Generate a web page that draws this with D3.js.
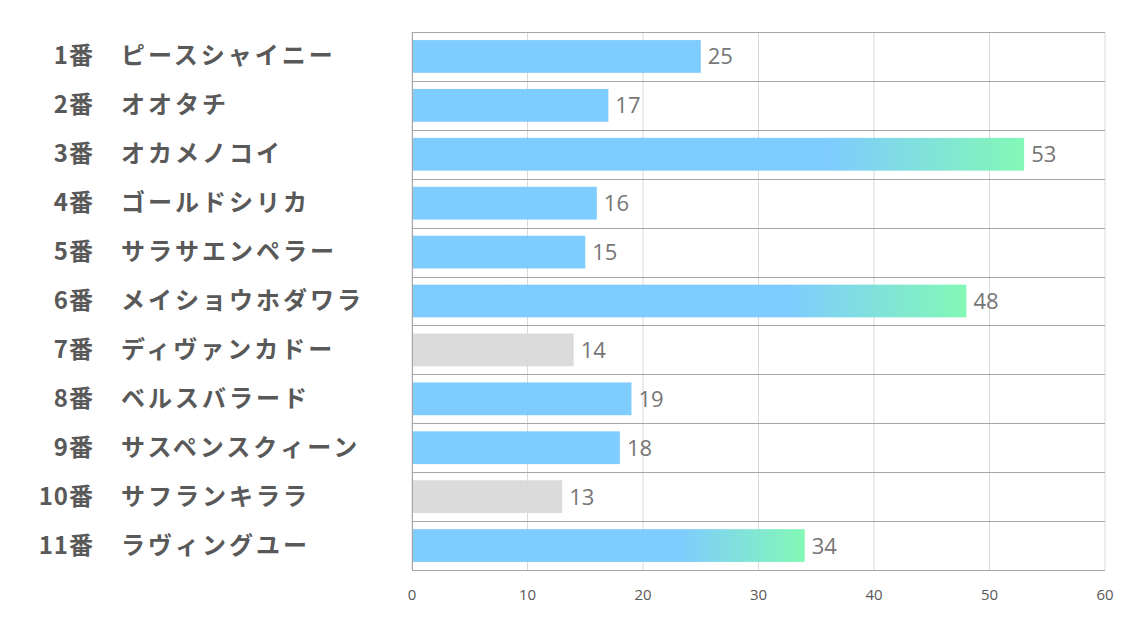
<!DOCTYPE html>
<html>
<head>
<meta charset="utf-8">
<script src="https://cdn.jsdelivr.net/npm/d3@7"></script>
<style>
  body { margin: 0; background: #fff; }
  svg { display: block; }
</style>
</head>
<body>
<div id="chart"></div>
<script>
// horse numbers, names, votes and which bars are greyed out
const numbers = ['1番', '2番', '3番', '4番', '5番', '6番', '7番', '8番', '9番', '10番', '11番'];
const names = ['ピースシャイニー', 'オオタチ', 'オカメノコイ', 'ゴールドシリカ', 'サラサエンペラー',
  'メイショウホダワラ', 'ディヴァンカドー', 'ベルスバラード', 'サスペンスクィーン', 'サフランキララ', 'ラヴィングユー'];
const values = [25, 17, 53, 16, 15, 48, 14, 19, 18, 13, 34];
const greyed = [false, false, false, false, false, false, true, false, false, true, false];
const gradientBars = [false, false, true, false, false, true, false, false, false, false, true];
const xTicks = [0, 10, 20, 30, 40, 50, 60];

const width = 1134, height = 623;
const margin = { top: 32, right: 29, bottom: 53, left: 412 };

const svg = d3.select('#chart').append('svg')
  .attr('width', width)
  .attr('height', height);

const defs = svg.append('defs');
const grad = defs.append('linearGradient')
  .attr('id', 'barGrad')
  .attr('x1', '0%').attr('x2', '100%')
  .attr('y1', '0%').attr('y2', '0%');
grad.append('stop').attr('offset', '0.68').attr('stop-color', '#78c9fe');
grad.append('stop').attr('offset', '1').attr('stop-color', '#7cf8b2');

const x = d3.scaleLinear()
  .domain([0, 60])
  .range([margin.left, width - margin.right]);

const y = d3.scaleBand()
  .domain(d3.range(numbers.length))
  .range([margin.top, height - margin.bottom])
  .paddingInner(0.33)
  .paddingOuter(0.165);

const rowStep = y.step();

// vertical gridlines
svg.append('g')
  .selectAll('line')
  .data(xTicks)
  .join('line')
  .attr('x1', d => x(d)).attr('x2', d => x(d))
  .attr('y1', margin.top).attr('y2', height - margin.bottom)
  .attr('stroke', '#d9d9d9')
  .attr('stroke-width', 1);

// horizontal row separators
const rowEdges = d3.range(numbers.length + 1).map(i => margin.top + i * rowStep);
svg.append('g')
  .selectAll('line')
  .data(rowEdges)
  .join('line')
  .attr('x1', x(0)).attr('x2', x(60))
  .attr('y1', d => Math.round(d) + 0.5).attr('y2', d => Math.round(d) + 0.5)
  .attr('stroke', '#a6a6a6')
  .attr('stroke-width', 1);

// left axis line
svg.append('line')
  .attr('x1', x(0) + 0.5).attr('x2', x(0) + 0.5)
  .attr('y1', margin.top).attr('y2', height - margin.bottom)
  .attr('stroke', '#a6a6a6');

// bars
svg.append('g')
  .selectAll('rect')
  .data(values)
  .join('rect')
  .attr('x', x(0) + 1)
  .attr('y', (d, i) => y(i))
  .attr('width', d => x(d) - x(0) - 1)
  .attr('height', y.bandwidth())
  .attr('fill', (d, i) => greyed[i] ? '#d9d9d9' : (gradientBars[i] ? 'url(#barGrad)' : '#78c9fe'))
  .attr('fill-opacity', 0.95);

// value labels
svg.append('g')
  .selectAll('text')
  .data(values)
  .join('text')
  .attr('x', d => x(d) + 7)
  .attr('y', (d, i) => y(i) + y.bandwidth() / 2 + 8)
  .attr('font-family', '"Open Sans", "Noto Sans", sans-serif')
  .attr('font-size', 22)
  .attr('fill', '#767676')
  .text(d => d);

// x tick labels
svg.append('g')
  .selectAll('text')
  .data(xTicks)
  .join('text')
  .attr('x', d => x(d))
  .attr('y', 600)
  .attr('text-anchor', 'middle')
  .attr('font-family', '"Open Sans", "Noto Sans", sans-serif')
  .attr('font-size', 15)
  .attr('fill', '#595959')
  .text(d => d);

// row labels: number right aligned, name left aligned
const labels = svg.append('g')
  .attr('font-family', '"Noto Sans CJK JP", sans-serif')
  .attr('font-weight', 'bold')
  .attr('font-size', 24)
  .attr('fill', '#595959');

labels.selectAll('text.num')
  .data(numbers)
  .join('text')
  .attr('class', 'num')
  .attr('x', 94)
  .attr('y', (d, i) => y(i) + y.bandwidth() / 2 + 8)
  .attr('text-anchor', 'end')
  .attr('letter-spacing', 1)
  .text(d => d);

labels.selectAll('text.name')
  .data(names)
  .join('text')
  .attr('class', 'name')
  .attr('x', 121)
  .attr('y', (d, i) => y(i) + y.bandwidth() / 2 + 8)
  .attr('letter-spacing', 3)
  .text(d => d);
</script>
</body>
</html>
